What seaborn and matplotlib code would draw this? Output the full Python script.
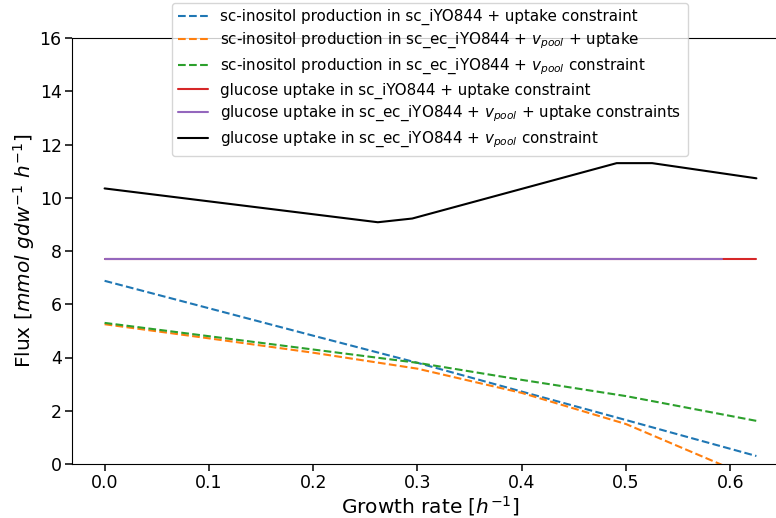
import matplotlib
matplotlib.use("Agg")
import matplotlib.pyplot as plt
import seaborn as sns
import numpy as np
import pandas as pd

sns.set_style("ticks", {"axes.edgecolor": "black", "text.color": "black",
                        "axes.labelcolor": "black", "xtick.color": "black",
                        "ytick.color": "black"})
plt.rcParams['font.family'] = ['DejaVu Sans']

# sc-inositol production curves
x_blue = [0.0, 0.1, 0.2, 0.3, 0.4, 0.5, 0.625]
y_blue = [6.88, 5.85, 4.82, 3.8, 2.72, 1.65, 0.3]
x_orange = [0.0, 0.1, 0.2, 0.3, 0.4, 0.5, 0.59, 0.625]
y_orange = [5.25, 4.72, 4.18, 3.58, 2.67, 1.5, 0.0, -0.6]
x_green = [0.0, 0.1, 0.2, 0.3, 0.4, 0.5, 0.625]
y_green = [5.3, 4.8, 4.3, 3.8, 3.16, 2.55, 1.62]

# glucose uptake curves
x_red = [0.0, 0.625]
y_red = [7.7, 7.7]
x_purple = [0.0, 0.592]
y_purple = [7.7, 7.7]
x_black = [0.0, 0.262, 0.295, 0.491, 0.525, 0.625]
y_black = [10.35, 9.08, 9.22, 11.3, 11.3, 10.73]

labels = [
    "sc-inositol production in sc_iYO844 + uptake constraint",
    "sc-inositol production in sc_ec_iYO844 + $v_{pool}$ + uptake",
    "sc-inositol production in sc_ec_iYO844 + $v_{pool}$ constraint",
    "glucose uptake in sc_iYO844 + uptake constraint",
    "glucose uptake in sc_ec_iYO844 + $v_{pool}$ + uptake constraints",
    "glucose uptake in sc_ec_iYO844 + $v_{pool}$ constraint",
]

series = [
    (x_blue, y_blue, "#1f77b4", "--"),
    (x_orange, y_orange, "#ff7f0e", "--"),
    (x_green, y_green, "#2ca02c", "--"),
    (x_red, y_red, "#d62728", "-"),
    (x_purple, y_purple, "#9467bd", "-"),
    (x_black, y_black, "black", "-"),
]

fig = plt.figure(figsize=(7.76, 5.18), dpi=100)
ax = fig.add_axes([72 / 776, 54 / 518, 717 / 776, 426 / 518])

for (xs, ys, c, ls), lab in zip(series, labels):
    df = pd.DataFrame({"x": xs, "y": ys})
    sns.lineplot(data=df, x="x", y="y", ax=ax, color=c, linestyle=ls,
                 label=lab, linewidth=1.5)

ax.set_xlim(-0.03125, 0.65625)
ax.set_ylim(0, 16)
ax.set_xticks([0.0, 0.1, 0.2, 0.3, 0.4, 0.5, 0.6])
ax.set_yticks(range(0, 17, 2))
ax.tick_params(labelsize=12.5, length=4.9, width=1.1, pad=2.5)
ax.set_xlabel("Growth rate [$h^{-1}$]", fontsize=14.5, labelpad=1)
ax.set_ylabel("Flux [$mmol\\ gdw^{-1}\\ h^{-1}$]", fontsize=14.5, labelpad=2)

ax.legend(loc="upper left", bbox_to_anchor=(172 / 776, 1 - 3 / 518),
          bbox_transform=fig.transFigure, borderaxespad=0, fontsize=10.9,
          labelspacing=0.36, frameon=True)

fig.savefig("out.png", dpi=100)
